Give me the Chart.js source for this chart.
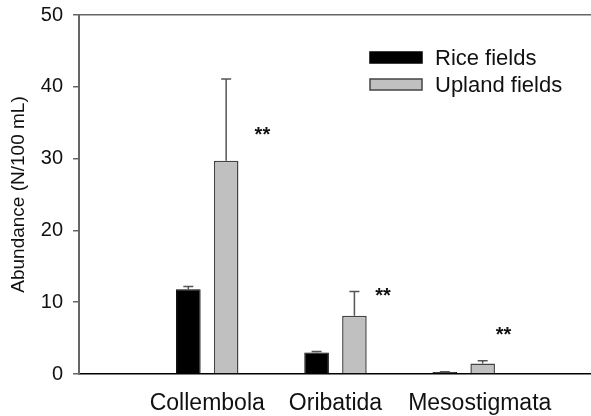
<!DOCTYPE html>
<html>
<head>
<meta charset="utf-8">
<script src="https://cdn.jsdelivr.net/npm/chart.js@4.4.1/dist/chart.umd.min.js"></script>
<style>
  html, body { margin: 0; padding: 0; background: #fff; overflow: hidden; }
  #wrap { position: relative; width: 600px; height: 416px; }
</style>
</head>
<body>
<div id="wrap"><canvas id="chart"></canvas></div>
<script>
// values
const categories = ['Collembola', 'Oribatida', 'Mesostigmata'];
const riceMeans = [11.8, 3.0, 0.28];
const riceErrors = [0.4, 0.15, 0.05];
const uplandMeans = [29.7, 8.1, 1.45];
const uplandErrors = [11.4, 3.4, 0.4];
const sigMarks = ['**', '**', '**'];
const sigHeights = [33.8, 11.4, 5.9];
const yTicks = [0, 10, 20, 30, 40, 50];

const FONT = '"Liberation Sans", Arial, Helvetica, sans-serif';
Chart.defaults.font.family = FONT;

// empty slot on each side so the groups sit where they do in the figure
const labels = [''].concat(categories, ['']);
const pad = arr => [null].concat(arr, [null]);

/**
 * Upper error bars (mean + SE) on top of every bar
 */
const errorBars = {
    id: 'errorBars',
    afterDatasetsDraw(chart) {
        const ctx = chart.ctx;
        const yScale = chart.scales.y;
        const errs = [riceErrors, uplandErrors];
        chart.data.datasets.forEach((ds, d) => {
            const meta = chart.getDatasetMeta(d);
            meta.data.forEach((bar, i) => {
                const v = ds.data[i];
                if (v === null) return;
                const top = yScale.getPixelForValue(v + errs[d][i - 1]);
                ctx.save();
                ctx.strokeStyle = '#555';
                ctx.lineWidth = 1.5;
                ctx.beginPath();
                ctx.moveTo(bar.x, bar.y);
                ctx.lineTo(bar.x, top);
                ctx.moveTo(bar.x - 5, top);
                ctx.lineTo(bar.x + 5, top);
                ctx.stroke();
                ctx.restore();
            });
        });
    }
};

/**
 * "**" significance marks beside each group
 */
const sigPlugin = {
    id: 'sigPlugin',
    afterDatasetsDraw(chart, args, opts) {
        const ctx = chart.ctx;
        const x = chart.scales.x;
        const y = chart.scales.y;
        const step = x.getPixelForValue(2) - x.getPixelForValue(1);
        ctx.save();
        ctx.fillStyle = '#111';
        ctx.font = 'bold 20px ' + FONT;
        ctx.textAlign = 'center';
        ctx.textBaseline = 'middle';
        sigMarks.forEach((m, i) => {
            const px = x.getPixelForValue(i + 1) + opts.shift[i] * step;
            ctx.fillText(m, px, y.getPixelForValue(sigHeights[i]) + 4);
        });
        ctx.restore();
    }
};

/**
 * Nudge crowded category labels sideways (the last one sits right of its group)
 */
const labelNudge = {
    id: 'labelNudge',
    beforeDraw(chart, args, opts) {
        const xs = chart.scales.x;
        const items = xs.getLabelItems(chart.chartArea);
        items.forEach(item => {
            const k = labels.indexOf(item.label);
            if (k > 0 && opts.shift[k - 1]) {
                item.options.translation[0] += opts.shift[k - 1];
            }
        });
    }
};

/**
 * Legend box in the upper right, like the original
 */
const boxLegend = {
    id: 'boxLegend',
    afterDraw(chart, args, opts) {
        const ctx = chart.ctx;
        ctx.save();
        ctx.font = '22px ' + FONT;
        ctx.textBaseline = 'middle';
        chart.data.datasets.forEach((ds, i) => {
            const top = opts.y + i * opts.gap;
            ctx.fillStyle = ds.backgroundColor;
            ctx.fillRect(opts.x, top, opts.w, opts.h);
            ctx.strokeStyle = ds.borderColor;
            ctx.lineWidth = 1.5;
            ctx.strokeRect(opts.x, top, opts.w, opts.h);
            ctx.fillStyle = '#111';
            ctx.fillText(ds.label, opts.textX, top + opts.h / 2 + 1);
        });
        ctx.restore();
    }
};

new Chart(document.getElementById('chart'), {
    type: 'bar',
    data: {
        labels: labels,
        datasets: [{
            label: 'Rice fields',
            data: pad(riceMeans),
            backgroundColor: '#000000',
            borderColor: '#000000',
            borderWidth: 1,
            categoryPercentage: 0.59,
            barPercentage: 0.65
        }, {
            label: 'Upland fields',
            data: pad(uplandMeans),
            backgroundColor: '#c0c0c0',
            borderColor: '#444444',
            borderWidth: 1.5,
            categoryPercentage: 0.59,
            barPercentage: 0.65
        }]
    },
    options: {
        responsive: true,
        maintainAspectRatio: false,
        animation: false,
        layout: { padding: { top: 15, right: 6, left: 0, bottom: 0 } },
        plugins: {
            legend: { display: false },
            tooltip: { enabled: false },
            sigPlugin: { shift: [0.43, 0.37, 0.31] },
            labelNudge: { shift: [0, 0, 16] },
            boxLegend: { x: 370, y: 52, w: 52, h: 11, gap: 27, textX: 435 }
        },
        scales: {
            x: {
                offset: false,
                afterFit: s => { s.height = 42; },
                grid: { display: false },
                border: { color: '#000', width: 1.5 },
                ticks: { padding: 8, color: '#111', font: { size: 23 }, maxRotation: 0, autoSkip: false }
            },
            y: {
                min: 0,
                max: 50,
                afterFit: s => { s.width = 79; s.paddingTop = 0; s.paddingBottom = 0; },
                afterBuildTicks: s => { s.ticks = yTicks.map(v => ({ value: v })); },
                ticks: { padding: 10, color: '#111', font: { size: 20 } },
                grid: {
                    color: c => (c.tick && c.tick.value === 50 ? '#666' : 'rgba(0,0,0,0)'),
                    tickColor: '#666',
                    tickLength: 6,
                    lineWidth: 1.5
                },
                border: { color: '#666', width: 2 },
                title: {
                    display: true,
                    text: 'Abundance (N/100 mL)',
                    color: '#111',
                    font: { size: 19 },
                    padding: { top: 7 }
                }
            }
        }
    },
    plugins: [errorBars, sigPlugin, labelNudge, boxLegend]
});
</script>
</body>
</html>
